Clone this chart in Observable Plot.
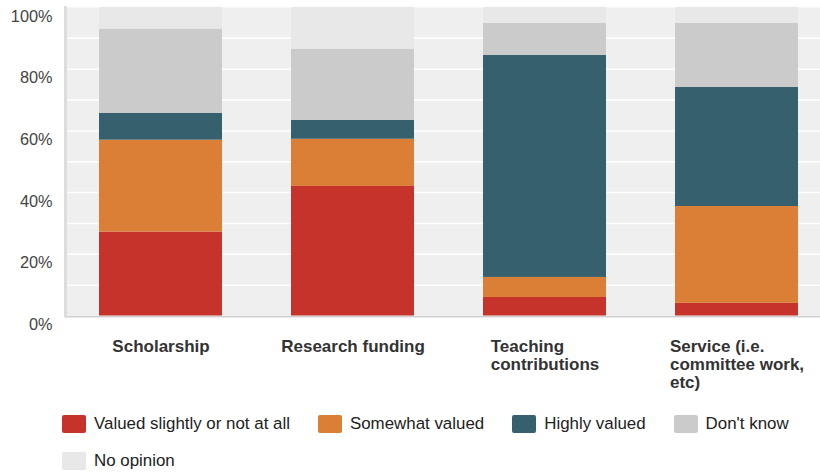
<!DOCTYPE html>
<html>
<head>
<meta charset="utf-8">
<script src="https://cdn.jsdelivr.net/npm/d3@7"></script>
<script src="https://cdn.jsdelivr.net/npm/@observablehq/plot@0.6"></script>
<style>
  body { margin: 0; background: #fff; font-family: "Liberation Sans", Arial, sans-serif; overflow: hidden; }
  #legend { display: flex; flex-wrap: wrap; row-gap: 19px; margin: 15px 0 0 62px; width: 790px; font-size: 16.9px; color: #222; }
  .item { display: flex; align-items: center; height: 18px; line-height: 18px; margin-right: 28px; }
  .sw { width: 24px; height: 18px; border-radius: 2px; margin-right: 8px; }
</style>
</head>
<body>
<div id="chart"></div>
<div id="legend"></div>
<script>
const categories = ["Scholarship", "Research funding", "Teaching contributions", "Service (i.e. committee work, etc)"];
const tickLabels = ["Scholarship", "Research funding", "Teaching\ncontributions", "Service (i.e.\ncommittee work,\netc)"];
const seriesNames = ["Valued slightly or not at all", "Somewhat valued", "Highly valued", "Don't know", "No opinion"];
const seriesColors = ["#c5332b", "#db7e36", "#37606e", "#cbcbcb", "#e8e8e8"];

const valuedSlightly = [27.2, 42.0, 6.0, 4.1];
const somewhatValued = [29.8, 15.3, 6.5, 31.4];
const highlyValued   = [8.7, 6.1, 72.0, 38.6];
const dontKnow       = [27.3, 23.1, 10.4, 20.8];
const noOpinion      = [7.0, 13.5, 5.1, 5.1];

const yTicks = [0, 20, 40, 60, 80, 100];
const gridTicks = [10, 20, 30, 40, 50, 60, 70, 80, 90];

const seriesValues = [valuedSlightly, somewhatValued, highlyValued, dontKnow, noOpinion];
const rows = [];
categories.forEach((c, i) => {
  seriesNames.forEach((s, j) => rows.push({category: c, series: s, value: seriesValues[j][i]}));
});

const svg = Plot.plot({
  width: 820,
  height: 400,
  marginLeft: 65,
  marginRight: 0,
  marginTop: 7,
  marginBottom: 84.5,
  style: {fontFamily: "'Liberation Sans', Arial, sans-serif", background: "transparent", overflow: "visible"},
  x: {type: "band", domain: categories, range: [64.7, 832.7], paddingInner: 0.36, paddingOuter: 0.18, label: null},
  y: {domain: [0, 100], label: null},
  color: {domain: seriesNames, range: seriesColors},
  marks: [
    Plot.frame({fill: "#efefef"}),
    Plot.gridY(gridTicks, {stroke: "#ffffff", strokeOpacity: 1, strokeWidth: 1.5}),
    Plot.barY(rows, {x: "category", y: "value", fill: "series", order: seriesNames}),
    Plot.ruleY([0], {stroke: "#d2d2d2", strokeWidth: 1.5, dy: 0.75}),
    Plot.frame({anchor: "left", stroke: "#dddddd", strokeWidth: 3}),
    Plot.axisY(yTicks, {label: null, tickFormat: d => d + "%", tickSize: 0, tickPadding: 13, fontSize: 16.3, fill: "#444", dy: 8.8}),
    Plot.axisX({label: null, tickSize: 0, tickPadding: 23, tickFormat: d => tickLabels[categories.indexOf(d)],
      fontSize: 17, fontWeight: "bold", fill: "#333", textAnchor: "start", lineHeight: 1.06, className: "xlab"})
  ]
});
document.getElementById("chart").appendChild(svg);

// center each left-aligned multi-line label block under its bar
svg.querySelectorAll(".xlab text").forEach(t => {
  const w = t.getBBox().width;
  const tr = t.getAttribute("transform") || "";
  t.setAttribute("transform", tr + ` translate(${-w / 2},0)`);
});

const legend = d3.select("#legend");
seriesNames.forEach((s, i) => {
  const it = legend.append("div").attr("class", "item");
  it.append("div").attr("class", "sw").style("background", seriesColors[i]);
  it.append("span").text(s);
});
</script>
</body>
</html>
